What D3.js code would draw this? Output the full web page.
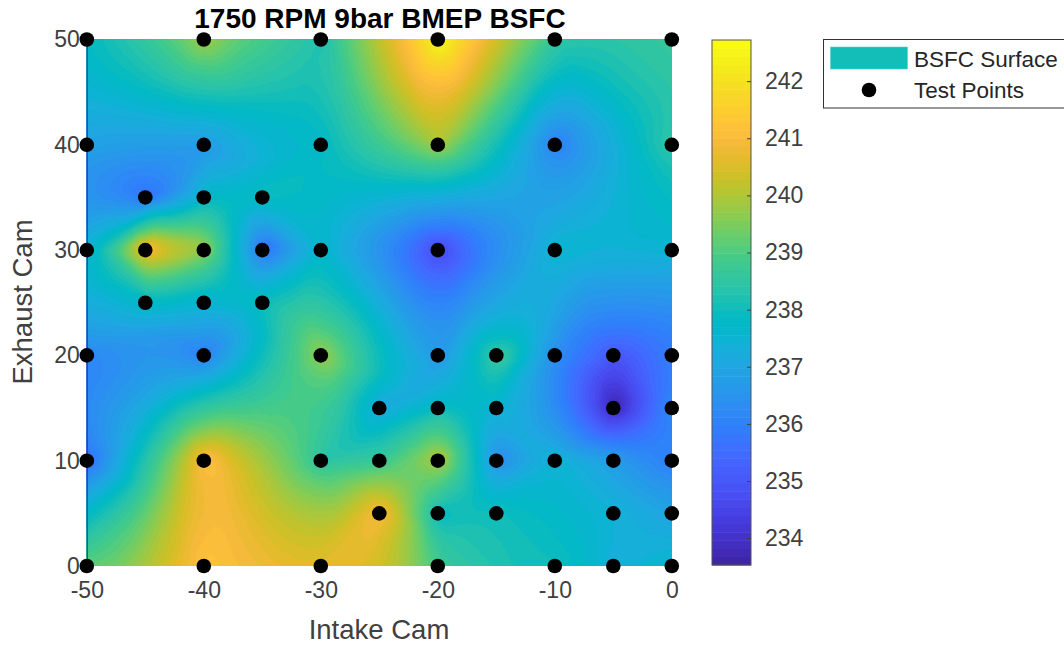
<!DOCTYPE html>
<html><head><meta charset="utf-8">
<script src="https://cdn.jsdelivr.net/npm/d3@7"></script>
<style>html,body{margin:0;padding:0;background:#fff;overflow:hidden}svg{display:block}text{font-family:"Liberation Sans",Arial,sans-serif}</style>
</head><body><svg id="c" width="1064" height="645"></svg>
<script>
const titleText = "1750 RPM 9bar BMEP BSFC";
const xLabelText = "Intake Cam";
const yLabelText = "Exhaust Cam";
const legendLabels = ["BSFC Surface", "Test Points"];
const xTicks = [-50,-40,-30,-20,-10,0];
const yTicks = [0,10,20,30,40,50];
const cbTicks = [234,235,236,237,238,239,240,241,242];
const cbDomain = [233.53, 242.72];
const intakeCam = [
 -50,-40,-30,-20,-10,0,
 -50,-40,-30,-20,-10,0,
 -45,-40,-35,
 -50,-45,-40,-35,-30,-20,-10,0,
 -45,-40,-35,
 -50,-40,-30,-20,-15,-10,-5,0,
 -25,-20,-15,-5,0,
 -50,-40,-30,-25,-20,-15,-10,-5,0,
 -25,-20,-15,-5,0,
 -50,-40,-30,-20,-10,-5,0];
const exhaustCam = [
 50,50,50,50,50,50,
 40,40,40,40,40,40,
 35,35,35,
 30,30,30,30,30,30,30,30,
 25,25,25,
 20,20,20,20,20,20,20,20,
 15,15,15,15,15,
 10,10,10,10,10,10,10,10,10,
 5,5,5,5,5,
 0,0,0,0,0,0,0];
const bsfc = [
 237.8,239.8,238.2,242.7,238.6,238.6,
 236.9,236.6,237.8,240.0,236.0,238.6,
 235.6,237.7,238.0,
 237.5,241.1,239.7,235.6,237.7,234.7,237.6,237.5,
 237.8,237.5,238.0,
 236.2,235.9,239.8,236.7,238.7,236.3,235.0,236.0,
 237.1,237.9,237.5,233.6,236.5,
 235.7,241.2,238.4,238.6,240.1,236.3,237.5,236.7,235.8,
 241.0,237.9,238.0,237.4,236.9,
 239.3,241.2,240.6,238.8,238.0,237.3,237.6];
const parulaStops = [
 [.2422,.1504,.6603],[.2578,.1818,.7511],[.2706,.2147,.8364],[.2783,.2559,.8991],[.2813,.3006,.9414],
 [.2795,.3447,.9717],[.2699,.3892,.9906],[.2440,.4358,.9988],[.1963,.4847,.9892],[.1786,.5289,.9682],
 [.1687,.5703,.9359],[.1460,.6091,.9079],[.1248,.6459,.8883],[.0952,.6798,.8598],[.0297,.7082,.8163],
 [.0067,.7312,.7660],[.0964,.7500,.7120],[.1717,.7670,.6554],[.2161,.7843,.5923],[.2906,.7973,.5188],
 [.3909,.8029,.4354],[.5044,.7993,.3480],[.6174,.7876,.2612],[.7242,.7698,.1910],[.8203,.7498,.1535],
 [.9035,.7330,.1774],[.9728,.7298,.2394],[.9970,.7659,.2199],[.9892,.8086,.1816],[.9676,.8528,.1530],
 [.9600,.8960,.1200],[.9620,.9400,.0990],[.9769,.9839,.0805]];

const levelCount = 64;
const svg = d3.select("#c");
const ink = "#404040";
const font = '"Liberation Sans",Arial,sans-serif';
const x = d3.scaleLinear().domain([-50,0]).range([86.8,671.8]);
const y = d3.scaleLinear().domain([0,50]).range([566,39.5]);
const cbY = d3.scaleLinear().domain(cbDomain).range([565,40]);
const ramp = d3.scaleLinear().domain(parulaStops.map((_,i)=>i/(parulaStops.length-1)))
  .range(parulaStops.map(c=>`rgb(${c.map(v=>Math.round(v*255)).join(",")})`));
const level = i => ramp(i/(levelCount-1));

// Natural-neighbour surface over the test points (discrete Sibson)
const pts = intakeCam.map((d,i)=>[d,exhaustCam[i]]);
const del = d3.Delaunay.from(pts);
const gw=201, gh=201, cell=50/(gw-1);
const sum=new Float64Array(gw*gh), cnt=new Float64Array(gw*gh);
let hint=0;
for(let j=0;j<gh;j++)for(let i=0;i<gw;i++){
  const px=-50+i*cell, py=50-j*cell;
  const s=del.find(px,py,hint); hint=s;
  const r=Math.hypot(px-pts[s][0],py-pts[s][1])/cell;
  const R=Math.ceil(r), r2=r*r+1e-6;
  for(let b=Math.max(0,j-R);b<=Math.min(gh-1,j+R);b++){
    for(let a=Math.max(0,i-R);a<=Math.min(gw-1,i+R);a++){
      if((a-i)*(a-i)+(b-j)*(b-j)<=r2){sum[b*gw+a]+=bsfc[s];cnt[b*gw+a]++;}
    }
  }
}
const grid=new Float64Array(gw*gh);
for(let k=0;k<grid.length;k++)grid[k]=sum[k]/cnt[k];

const step=(cbDomain[1]-cbDomain[0])/levelCount;
const thresholds=d3.range(levelCount).map(i=>cbDomain[0]+i*step);
const contours=d3.contours().size([gw,gh]).smooth(true).thresholds(thresholds)(grid);
const defs=svg.append("defs");
defs.append("clipPath").attr("id","plot").append("rect")
  .attr("x",x(-50)).attr("y",y(50)).attr("width",x(0)-x(-50)).attr("height",y(0)-y(50));
const proj=d3.geoTransform({point(a,b){
  this.stream.point(x(-50+cell*(a-.5)),y(50-cell*(b-.5)));
}});
const path=d3.geoPath(proj);
const surf=svg.append("g").attr("clip-path","url(#plot)");
surf.append("rect").attr("x",x(-50)).attr("y",y(50)).attr("width",x(0)-x(-50)).attr("height",y(0)-y(50)).attr("fill",level(20));
surf.selectAll("path").data(contours).join("path").attr("d",path)
  .attr("fill",(d,i)=>level(i)).attr("stroke",(d,i)=>level(i)).attr("stroke-width",.4);

// Axes
const hy=d=>String(d);
const ax=svg.append("g").attr("transform",`translate(0,${y(0)})`).call(d3.axisBottom(x).tickValues(xTicks).tickSize(0).tickPadding(16).tickFormat(hy));
ax.select(".domain").remove();
const ay=svg.append("g").attr("transform",`translate(${x(-50)},0)`).call(d3.axisLeft(y).tickValues(yTicks).tickSize(0).tickPadding(7).tickFormat(hy));
ay.select(".domain").attr("stroke","#404040").attr("stroke-width",1);
svg.selectAll("g.tick text").attr("font-size",23).attr("fill",ink).attr("font-family",font);

svg.append("text").attr("x",379).attr("y",630).attr("dy",".33em").attr("text-anchor","middle").attr("font-size",27.5).attr("fill",ink).text(xLabelText);
svg.append("text").attr("transform",`translate(23,302) rotate(-90)`).attr("dy",".33em").attr("text-anchor","middle").attr("font-size",27.5).attr("fill",ink).text(yLabelText);
svg.append("text").attr("x",380).attr("y",28).attr("text-anchor","middle").attr("font-size",28).attr("font-weight","bold").attr("fill","#000").text(titleText);

// Test points
svg.append("g").selectAll("circle").data(pts).join("circle")
  .attr("cx",d=>x(d[0])).attr("cy",d=>y(d[1])).attr("r",7.3).attr("fill","#000");

// Colorbar
const cb=svg.append("g");
const x0=712,x1=751;
cb.selectAll("rect").data(d3.range(levelCount)).join("rect")
  .attr("x",x0).attr("width",x1-x0)
  .attr("y",i=>cbY(cbDomain[0]+(i+1)*step)).attr("height",525/levelCount+.5)
  .attr("fill",i=>level(i));
cb.append("rect").attr("x",x0).attr("y",40).attr("width",x1-x0).attr("height",525).attr("fill","none").attr("stroke","#555").attr("stroke-width",1);
const cbAxis=svg.append("g").attr("transform",`translate(${x1},0)`).call(d3.axisRight(cbY).tickValues(cbTicks).tickSize(-4).tickPadding(14).tickFormat(d3.format("d")));
cbAxis.select(".domain").remove();
cbAxis.selectAll("line").attr("stroke","#404040");
cbAxis.selectAll("text").attr("font-size",23).attr("fill",ink).attr("font-family",font);

// Legend
const lg=svg.append("g");
lg.append("rect").attr("x",823.5).attr("y",39.5).attr("width",260).attr("height",68.5).attr("fill","#fff").attr("stroke","#333").attr("stroke-width",1);
lg.append("rect").attr("x",830.5).attr("y",47).attr("width",77).attr("height",22).attr("fill",level(Math.round(levelCount*.48))).attr("stroke","#5cd0d0").attr("stroke-width",.6);
lg.append("circle").attr("cx",869).attr("cy",90).attr("r",7.3).attr("fill","#000");
lg.selectAll("text").data(legendLabels).join("text").attr("x",914).attr("y",(d,i)=>59+i*31).attr("dy",".35em").attr("font-size",22.5).attr("fill","#262626").text(d=>d);
</script></body></html>
